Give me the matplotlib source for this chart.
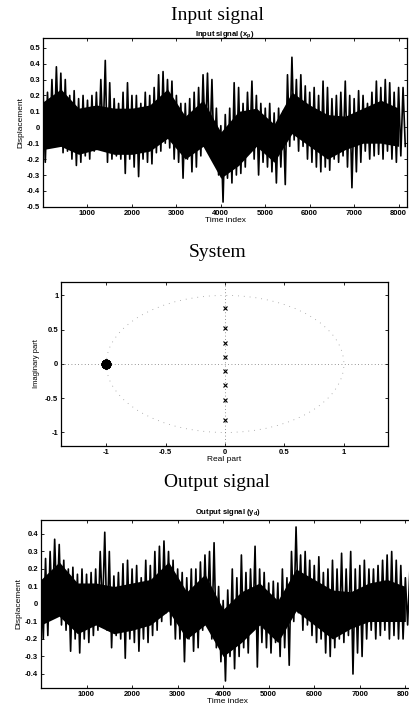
import numpy as np
import matplotlib
matplotlib.use("Agg")
import matplotlib.pyplot as plt
from matplotlib.patches import Circle

# sample index of each envelope reading (every 100 samples)
step = 100
# input signal x_p : upper / lower extremes read per 100 samples
x_hi = [0.23, 0.22, 0.30, 0.38, 0.34, 0.30, 0.20, 0.23, 0.18, 0.20,
        0.17, 0.20, 0.22, 0.30, 0.42, 0.28, 0.18, 0.15, 0.22, 0.28,
        0.20, 0.20, 0.15, 0.22, 0.20, 0.25, 0.33, 0.35, 0.30, 0.29,
        0.20, 0.15, 0.15, 0.18, 0.22, 0.25, 0.33, 0.34, 0.30, 0.12,
        0.01, 0.08, 0.12, 0.28, 0.25, 0.15, 0.22, 0.29, 0.20, 0.15,
        0.12, 0.15, 0.09, 0.12, 0.10, 0.33, 0.44, 0.30, 0.33, 0.26,
        0.22, 0.25, 0.20, 0.29, 0.25, 0.18, 0.20, 0.22, 0.29, 0.20,
        0.18, 0.23, 0.20, 0.15, 0.22, 0.29, 0.25, 0.30, 0.28, 0.22,
        0.25, 0.25]
x_lo = [-0.22, -0.12, -0.10, -0.05, -0.16, -0.15, -0.20, -0.24, -0.22, -0.18,
        -0.20, -0.15, -0.12, -0.08, -0.22, -0.20, -0.18, -0.20, -0.29, -0.20,
        -0.25, -0.31, -0.20, -0.22, -0.23, -0.16, -0.15, -0.10, -0.13, -0.20,
        -0.22, -0.32, -0.20, -0.28, -0.25, -0.18, -0.10, -0.15, -0.22, -0.30,
        -0.47, -0.32, -0.35, -0.30, -0.29, -0.25, -0.14, -0.20, -0.30, -0.22,
        -0.25, -0.28, -0.35, -0.25, -0.36, -0.12, -0.08, -0.15, -0.12, -0.20,
        -0.22, -0.25, -0.28, -0.25, -0.27, -0.20, -0.22, -0.18, -0.25, -0.38,
        -0.28, -0.22, -0.15, -0.20, -0.18, -0.17, -0.20, -0.15, -0.20, -0.22,
        -0.18, -0.12]
# dense core of the input trace, read every 400 samples
core_step = 400
x_core_top = [0.16, 0.24, 0.12, 0.14, 0.12, 0.12, 0.14, 0.24, 0.07, 0.17,
              -0.03, 0.10, 0.12, 0.02, 0.22, 0.14, 0.08, 0.07, 0.12, 0.17,
              0.12]
x_core_bot = [-0.14, -0.12, -0.17, -0.14, -0.17, -0.17, -0.15, -0.07, -0.20,
              -0.12, -0.32, -0.24, -0.12, -0.22, -0.04, -0.12, -0.20, -0.14,
              -0.10, -0.10, -0.12]

# output signal y_d
y_hi = [0.15, 0.26, 0.30, 0.37, 0.34, 0.25, 0.20, 0.21, 0.17, 0.20,
        0.17, 0.18, 0.20, 0.30, 0.41, 0.30, 0.16, 0.18, 0.23, 0.25,
        0.20, 0.22, 0.15, 0.25, 0.22, 0.30, 0.33, 0.36, 0.30, 0.25,
        0.20, 0.18, 0.15, 0.20, 0.20, 0.24, 0.28, 0.30, 0.35, 0.10,
        0.02, 0.08, 0.20, 0.15, 0.28, 0.18, 0.20, 0.33, 0.20, 0.18,
        0.12, 0.13, 0.12, 0.20, 0.15, 0.30, 0.44, 0.28, 0.30, 0.25,
        0.22, 0.27, 0.18, 0.20, 0.25, 0.20, 0.29, 0.20, 0.30, 0.20,
        0.22, 0.25, 0.20, 0.20, 0.22, 0.25, 0.28, 0.30, 0.25, 0.22,
        0.15, 0.20]
y_lo = [-0.20, -0.18, -0.05, -0.02, -0.12, -0.15, -0.27, -0.20, -0.28, -0.20,
        -0.22, -0.18, -0.15, -0.05, -0.15, -0.25, -0.18, -0.20, -0.31, -0.20,
        -0.22, -0.27, -0.20, -0.22, -0.18, -0.15, -0.10, -0.05, -0.12, -0.20,
        -0.20, -0.33, -0.20, -0.27, -0.25, -0.15, -0.10, -0.20, -0.25, -0.33,
        -0.44, -0.30, -0.37, -0.30, -0.25, -0.28, -0.15, -0.36, -0.22, -0.25,
        -0.28, -0.22, -0.30, -0.25, -0.35, -0.10, -0.05, -0.15, -0.12, -0.18,
        -0.22, -0.20, -0.28, -0.30, -0.25, -0.20, -0.22, -0.18, -0.40, -0.28,
        -0.30, -0.20, -0.15, -0.20, -0.18, -0.15, -0.20, -0.18, -0.20, -0.20,
        -0.12, -0.15]
y_core_top = [0.14, 0.24, 0.12, 0.12, 0.10, 0.12, 0.14, 0.24, 0.07, 0.17,
              -0.03, 0.07, 0.12, 0.02, 0.20, 0.14, 0.08, 0.07, 0.12, 0.14,
              0.10]
y_core_bot = [-0.12, -0.07, -0.17, -0.12, -0.17, -0.15, -0.12, -0.04, -0.20,
              -0.12, -0.30, -0.22, -0.12, -0.22, -0.04, -0.12, -0.20, -0.14,
              -0.10, -0.10, -0.10]

# pole-zero data of the system
zeros_re = [-1.0, -1.0, -1.0, -1.0, -1.0, -1.0, -1.0, -1.0]
zeros_im = [0.0, 0.0, 0.0, 0.0, 0.0, 0.0, 0.0, 0.0]
poles_re = [0.0, 0.0, 0.0, 0.0, 0.0, 0.0, 0.0, 0.0]
poles_im = [0.82, 0.53, 0.31, 0.1, -0.1, -0.31, -0.53, -0.82]

time_ticks = [1000, 2000, 3000, 4000, 5000, 6000, 7000, 8000]

serif = "Liberation Serif"
sans = "Liberation Sans"
tick_fs = 5.5


def draw_trace(ax, hi, lo, core_top, core_bot):
    # solid core band, then max / min of each 100-sample block as spikes
    tc = np.arange(len(core_top)) * core_step
    ax.fill_between(tc, core_bot, core_top, color="black", lw=0)
    t = np.arange(len(hi)) * step
    xs = np.column_stack([t, t + step / 2]).ravel()
    ys = np.column_stack([hi, lo]).ravel()
    ax.plot(xs, ys, color="black", lw=1.2)


def style(ax):
    ax.tick_params(direction="in", top=True, right=True, length=2.5,
                   width=0.6, labelsize=tick_fs, pad=2)
    for lab in ax.get_xticklabels() + ax.get_yticklabels():
        lab.set_fontfamily(sans)
        lab.set_fontweight("bold")
    for s in ax.spines.values():
        s.set_linewidth(0.9)


fig = plt.figure(figsize=(4.1, 7.06), dpi=100)

# ---- input signal
ax1 = fig.add_axes([0.105, 0.707, 0.888, 0.239])
draw_trace(ax1, x_hi, x_lo, x_core_top, x_core_bot)
ax1.set_xlim(0, 8192)
ax1.set_ylim(-0.5, 0.56)
ax1.set_xticks(time_ticks)
ax1.set_yticks(np.arange(-5, 6) / 10)
ax1.set_yticklabels(["-0.5", "-0.4", "-0.3", "-0.2", "-0.1", "0",
                     "0.1", "0.2", "0.3", "0.4", "0.5"])
ax1.set_xlabel("Time index", fontsize=6, family=sans, labelpad=0)
ax1.set_ylabel("Displacement", fontsize=6, family=sans, labelpad=2)
ax1.set_title("Input signal ($\\mathregular{x_p}$)", fontsize=5.5,
              family=sans, fontweight="bold", pad=2)
style(ax1)
fig.text(0.53, 0.978, "Input signal", ha="center", va="center",
         fontsize=14, family=serif)

# ---- system (pole-zero map)
ax2 = fig.add_axes([0.149, 0.368, 0.797, 0.233])
ax2.add_patch(Circle((0, 0), 1, fill=False, ls=(0, (1, 6)), lw=0.6,
                     color="0.6"))
ax2.axhline(0, color="0.45", ls=(0, (1, 3)), lw=0.6)
ax2.axvline(0, color="0.45", ls=(0, (1, 3)), lw=0.6)
ax2.plot(zeros_re, zeros_im, "o", ms=6, mfc="black", mec="black")
ax2.plot(poles_re, poles_im, "x", ms=3.5, mew=0.8, color="black")
ax2.set_xlim(-1.38, 1.37)
ax2.set_ylim(-1.2, 1.2)
ax2.set_xticks([-1, -0.5, 0, 0.5, 1])
ax2.set_xticklabels(["-1", "-0.5", "0", "0.5", "1"])
ax2.set_yticks([-1, -0.5, 0, 0.5, 1])
ax2.set_yticklabels(["-1", "-0.5", "0", "0.5", "1"])
ax2.set_xlabel("Real part", fontsize=6, family=sans, labelpad=0)
ax2.set_ylabel("Imaginary part", fontsize=5.5, family=sans, labelpad=4)
style(ax2)
fig.text(0.53, 0.643, "System", ha="center", va="center",
         fontsize=14, family=serif)

# ---- output signal
ax3 = fig.add_axes([0.1, 0.0255, 0.91, 0.238])
draw_trace(ax3, y_hi, y_lo, y_core_top, y_core_bot)
ax3.set_xlim(0, 8192)
ax3.set_ylim(-0.48, 0.48)
ax3.set_xticks(time_ticks)
ax3.set_yticks(np.arange(-4, 5) / 10)
ax3.set_yticklabels(["-0.4", "-0.3", "-0.2", "-0.1", "0",
                     "0.1", "0.2", "0.3", "0.4"])
ax3.set_xlabel("Time index", fontsize=6, family=sans, labelpad=0)
ax3.set_ylabel("Displacement", fontsize=6, family=sans, labelpad=2)
ax3.set_title("Output signal ($\\mathregular{y_d}$)", fontsize=5.5,
              family=sans, fontweight="bold", pad=4)
style(ax3)
fig.text(0.53, 0.316, "Output signal", ha="center", va="center",
         fontsize=14, family=serif)

fig.savefig("out.png", dpi=100)
